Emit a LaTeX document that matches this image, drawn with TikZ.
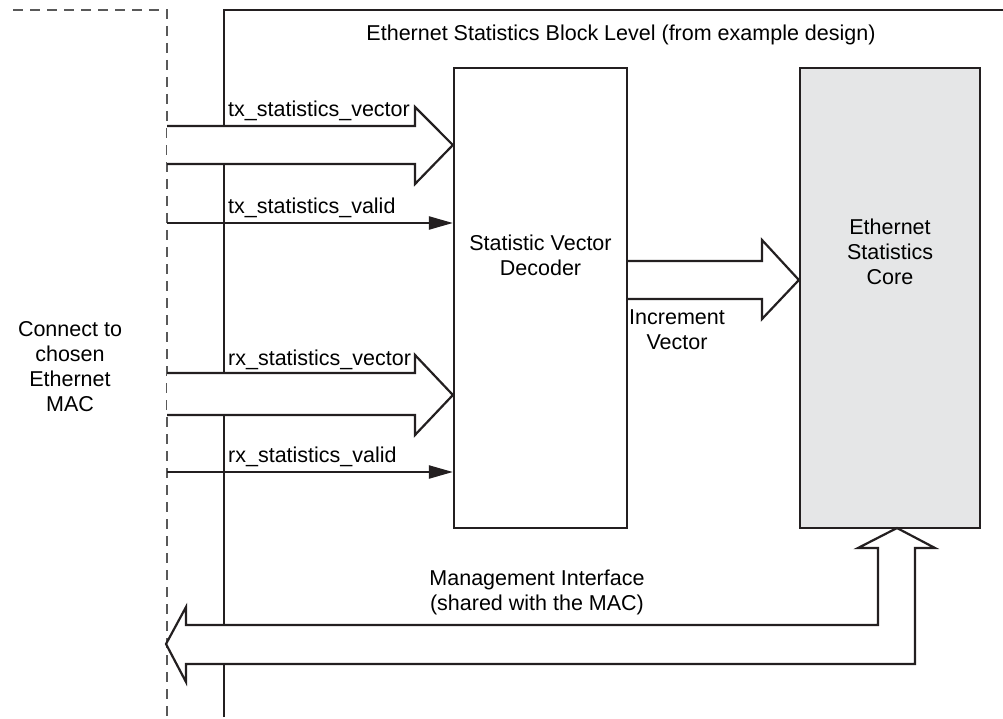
\documentclass[tikz,border=0pt]{standalone}
\usepackage{fontspec}
\setmainfont{Liberation Sans}
\usetikzlibrary{arrows.meta}
\begin{document}
\begin{tikzpicture}[x=1pt,y=-1pt,
  ln/.style={line width=2.2pt, draw={rgb,255:red,35;green,31;blue,32}},
  blk/.style={ln, fill=white, line join=miter},
  dsh/.style={line width=1.5pt, draw=gray!70!black, dash pattern=on 10pt off 7pt},
  lbl/.style={font=\fontsize{21.5}{25}\selectfont, inner sep=0pt},
  sig/.style={ln, -{Triangle[length=24pt,width=13pt]}}
]
\useasboundingbox (0,0) rectangle (1003,719);
% dashed boundary
\coordinate (d0) at (13,10);
\coordinate (d1) at (167,10);
\coordinate (d2) at (167,719);
\draw[dsh] (d0) -- (d1) -- (d2);
% block frame
\coordinate (f0) at (224,717);
\coordinate (f1) at (224,10);
\coordinate (f2) at (1003,10);
\draw[ln] (f0) -- (f1) -- (f2);
\node[lbl] (title) at (621,35) {Ethernet Statistics Block Level (from example design)};
% boxes
\node[ln, draw, fill=white, minimum width=173pt, minimum height=460pt, inner sep=0pt] (dec) at (540.5,298) {};
\node[lbl, align=center] (dect) at (540.5,255) {Statistic Vector\\Decoder};
\node[ln, draw, fill={rgb,255:red,229;green,230;blue,231}, minimum width=180pt, minimum height=460pt, inner sep=0pt] (core) at (890,298) {};
\node[lbl, align=center] (coret) at (890,252) {Ethernet\\Statistics\\Core};
% tx vector
\draw[blk] (167,126) -- (415,126) -- (415,107) -- (dec.west |- 0,145) -- (415,184) -- (415,164) -- (167,164);
\node[lbl, anchor=base west] (txv) at (228,117) {tx\_statistics\_vector};
% tx valid
\coordinate (txs) at (167,223);
\draw[sig] (txs) -- (dec.west |- txs);
\node[lbl, anchor=base west] (txd) at (228,214) {tx\_statistics\_valid};
% rx vector
\draw[blk] (167,373) -- (415,373) -- (415,355) -- (dec.west |- 0,395) -- (415,435) -- (415,415) -- (167,415);
\node[lbl, anchor=base west] (rxv) at (228,365) {rx\_statistics\_vector};
% rx valid
\coordinate (rxs) at (167,472);
\draw[sig] (rxs) -- (dec.west |- rxs);
\node[lbl, anchor=base west] (rxd) at (228,462) {rx\_statistics\_valid};
% increment vector
\draw[blk] (dec.east |- 0,261) -- (762,261) -- (762,240) -- (core.west |- 0,280) -- (762,319) -- (762,299) -- (dec.east |- 0,299);
\node[lbl, align=center] (inc) at (677,330) {Increment\\Vector};
% management interface
\draw[blk] (878,625) -- (186,625) -- (186,607) -- (166,644) -- (186,682) -- (186,664) -- (915,664) -- (915,548) -- (935,548) -- (897,528) -- (858,548) -- (878,548) -- cycle;
\node[lbl, align=center] (mgmt) at (537,592) {Management Interface\\(shared with the MAC)};
% connect text
\node[lbl, align=center] (conn) at (70,367) {Connect to\\chosen\\Ethernet\\MAC};
\end{tikzpicture}
\end{document}
